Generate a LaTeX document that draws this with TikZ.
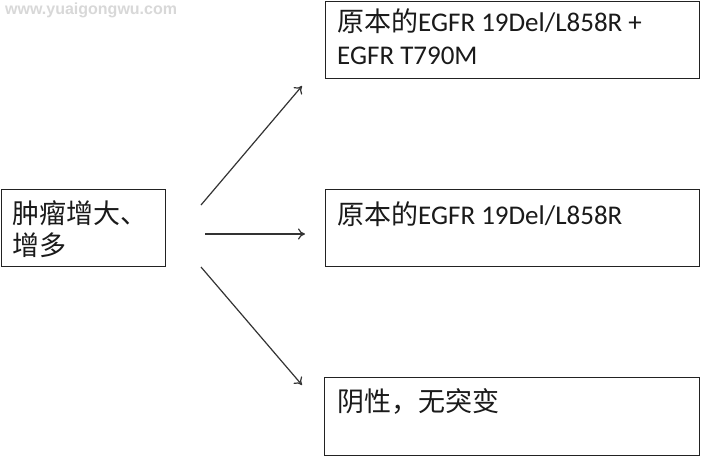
\documentclass[tikz,border=0pt]{standalone}
\usepackage{fontspec}
\usetikzlibrary{arrows.meta}
\setmainfont{Carlito}
\newfontfamily\cjk{Noto Sans CJK SC}
\newfontfamily\wmfont{Liberation Sans}
\definecolor{boxline}{HTML}{222222}
\definecolor{arrline}{HTML}{333333}
\definecolor{txt}{HTML}{1A1A1A}
\definecolor{wm}{HTML}{D8D8D8}
\begin{document}
\begin{tikzpicture}[x=1pt,y=-1pt,
  box/.style={draw=boxline,line width=1.4pt,anchor=north west,inner sep=0pt,fill=none},
  lbl/.style={anchor=base west,inner sep=0pt,text=txt,font=\fontsize{27}{32.5}\selectfont},
  arr/.style={draw=arrline,line width=1.2pt,-{To[length=7pt,width=11pt]}}]
\useasboundingbox (0,0) rectangle (701,456);
\fill[white] (0,0) rectangle (701,456);
% watermark
\node[anchor=base west,inner sep=0pt,text=wm,font=\wmfont\bfseries\fontsize{16}{16}\selectfont] (wm) at (5,14) {www.yuaigongwu.com};
% boxes
\node[box,minimum width=164pt,minimum height=77pt] (L) at (1,189) {};
\node[box,minimum width=374pt,minimum height=77pt] (T) at (325,1) {};
\node[box,minimum width=374pt,minimum height=77pt] (M) at (325,189) {};
\node[box,minimum width=375pt,minimum height=78pt] (B) at (324,377) {};
% texts
\node[lbl] (L1) at (12,223) {{\cjk 肿瘤增大、}};
\node[lbl] (L2) at (12,255.5) {{\cjk 增多}};
\node[lbl] (T1) at (337,31) {{\cjk 原本的}EGFR 19Del/L858R +};
\node[lbl] (T2) at (337,64) {EGFR T790M};
\node[lbl] (M1) at (337,224) {{\cjk 原本的}EGFR 19Del/L858R};
\node[lbl] (B1) at (337,411) {{\cjk 阴性，无突变}};
% arrow ends
\coordinate (s1) at (201,205);
\coordinate (e1) at (302,86);
\coordinate (s2) at (205,234);
\coordinate (e2) at (305,234);
\coordinate (s3) at (201,267);
\coordinate (e3) at (302,385);
\draw[arr] (s1) -- (e1);
\draw[arr] (s2) -- (e2);
\draw[arr] (s3) -- (e3);
\end{tikzpicture}
\end{document}
